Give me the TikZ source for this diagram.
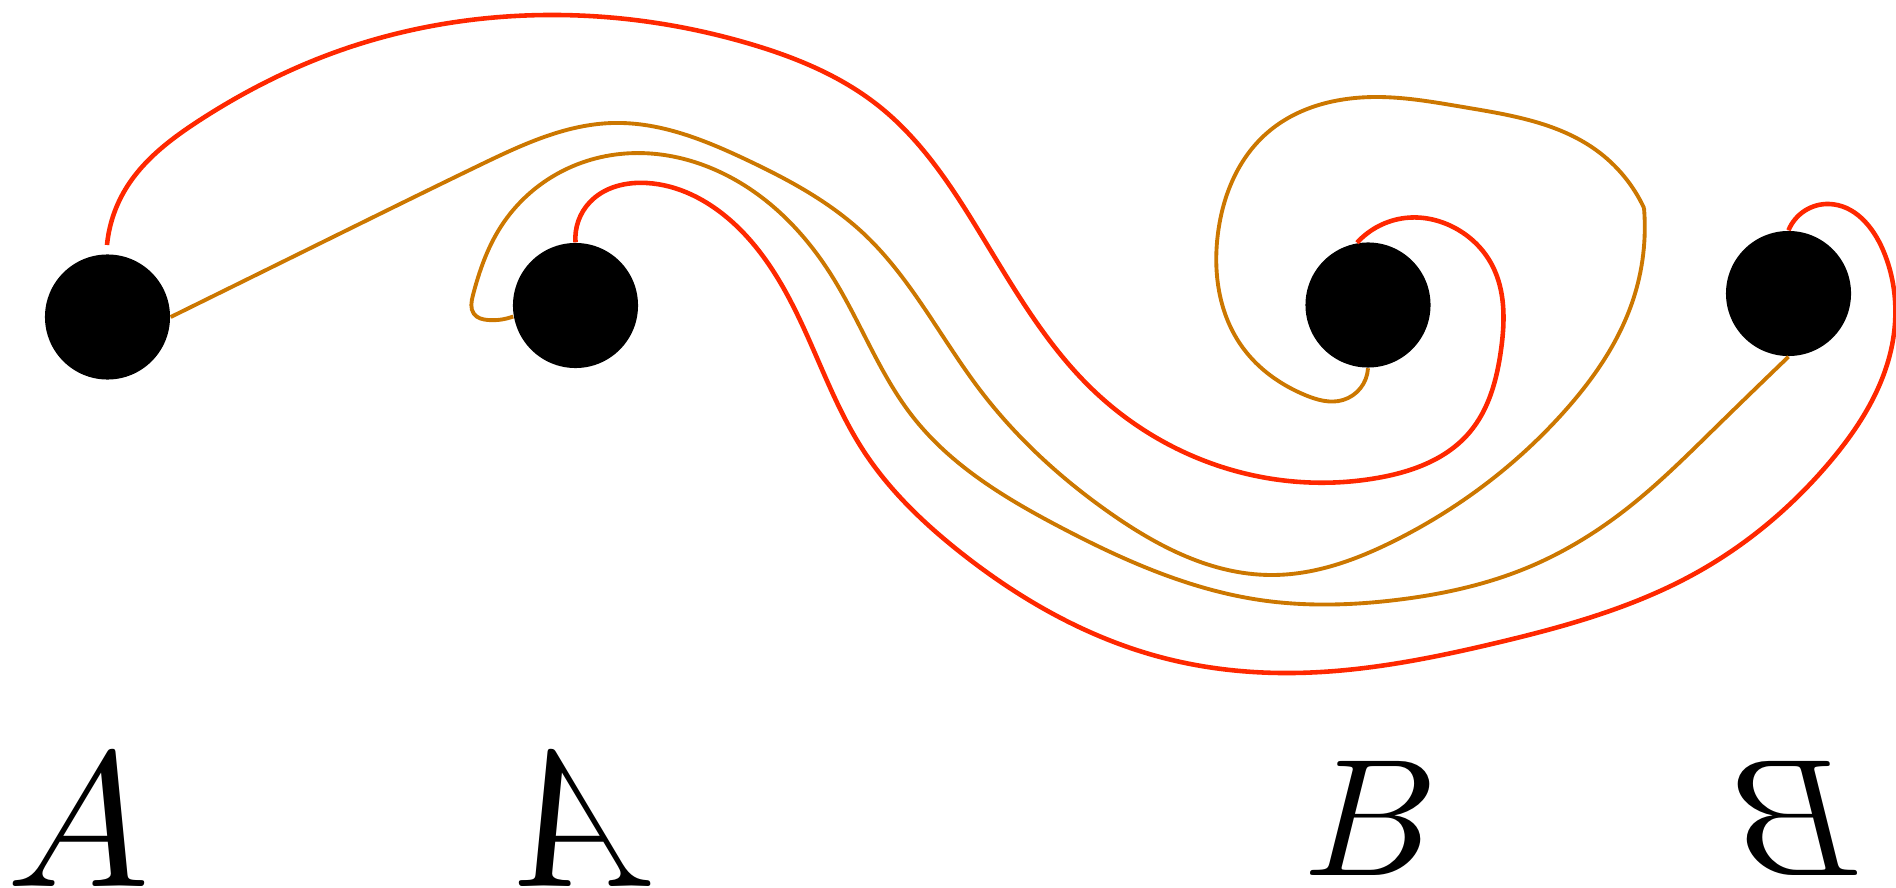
\documentclass[tikz,border=0pt]{standalone}
\usepackage{graphicx}
\usetikzlibrary{hobby}
\definecolor{cred}{RGB}{255,40,0}
\definecolor{corange}{RGB}{204,119,0}
\begin{document}
\begin{tikzpicture}[x=0.01cm,y=-0.01cm,
  dot/.style={circle,fill=black,minimum size=1.25cm,inner sep=0pt},
  redline/.style={draw=cred,line width=1.3pt},
  orangeline/.style={draw=corange,line width=1.1pt},
  letter/.style={inner sep=0pt,anchor=base}]
\useasboundingbox (0,0) rectangle (1896,888);
% dots
\node[dot] (c1) at (107.5,317) {};
\node[dot] (c2) at (575.5,305.5) {};
\node[dot] (c3) at (1368,305) {};
\node[dot] (c4) at (1788.5,293.5) {};
\coordinate (r1s) at (107,245);
\coordinate (o1k) at (1644,208);
% red 1
\draw[redline] (r1s) to[curve through={(125,190) .. (200,120) .. (333,53) .. (547,15) .. (747,43) .. (880,107) .. (980,233) .. (1093,390) .. (1243,473) .. (1377,478) .. (1469,433) .. (1501,350) .. (1492,265) .. (1455,228) .. (1405,218)}] (c3.100);
% orange 1
\draw[orangeline] (c1.east) to[curve through={(333,237) .. (480,165) .. (613,123) .. (747,160) .. (863,233) .. (980,390) .. (1110,513) .. (1270,575) .. (1396,540) .. (1563,413) .. (1633,300)}] (o1k);
\draw[orangeline] (o1k) to[curve through={(1596,150) .. (1463,107) .. (1377,97) .. (1267,133) .. (1218,233) .. (1243,348) .. (1305,395) .. (1343,400)}] (c3.south);
\fill[corange] (o1k) circle (0.55pt);
% orange 2
\draw[orangeline] (c2.190) to[curve through={(488,320) .. (474,314) .. (473,295) .. (500,228) .. (547,180) .. (620,154) .. (747,187) .. (830,273) .. (913,417) .. (1060,527) .. (1260,600) .. (1396,600) .. (1529,567) .. (1629,507) .. (1713,430)}] (c4.south);
% red 2
\draw[redline] (c2.north) to[curve through={(590,202) .. (647,183) .. (730,220) .. (790,300) .. (863,450) .. (960,552) .. (1160,657) .. (1293,673) .. (1496,643) .. (1696,573) .. (1829,463) .. (1893,340) .. (1883,250) .. (1829,204)}] (c4.north);
% letters
\node[letter] (la) at (78.5,886) {\scalebox{5.45}{$A$}};
\node[letter] (lam) at (586,886) {\scalebox{-5.45}[5.45]{$A$}};
\node[letter] (lb) at (1371,875) {\scalebox{4.75}{$B$}};
\node[letter] (lbm) at (1797,875) {\scalebox{-4.75}[4.75]{$B$}};
\end{tikzpicture}
\end{document}
